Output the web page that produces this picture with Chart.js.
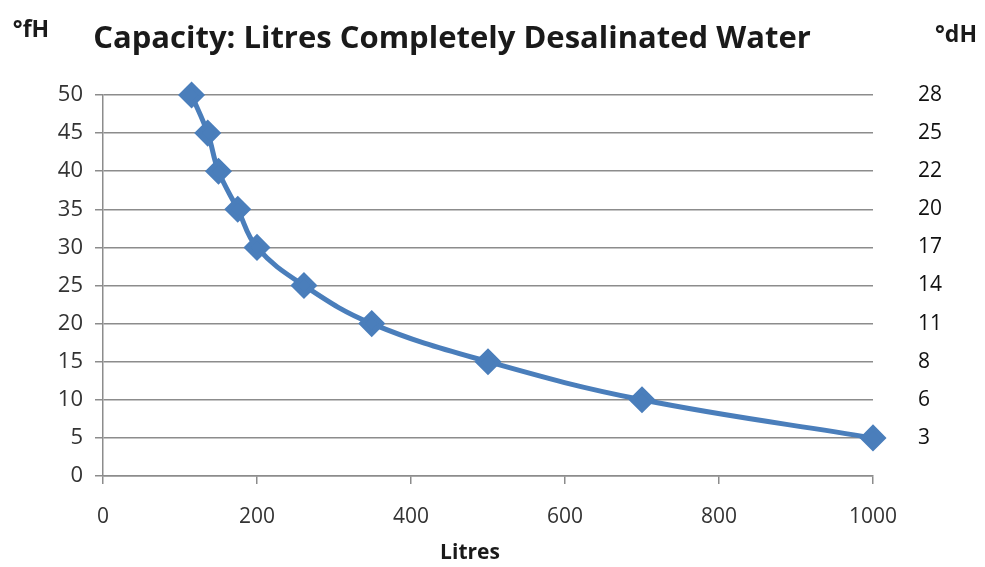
<!DOCTYPE html>
<html lang="en">
<head>
    <meta charset="UTF-8">
    <title>Capacity: Litres Completely Desalinated Water</title>
    <script src="https://cdn.jsdelivr.net/npm/chart.js"></script>
    <style>
        body {
            margin: 0;
            background: #fff;
        }
        .wrap {
            width: 985px;
            height: 567px;
        }
    </style>
</head>
<body>
    <div class="wrap">
        <canvas id="capChart" width="985" height="567"></canvas>
    </div>

    <script>
        // Data
        const litres = [115, 136, 150, 175, 200, 261, 349, 500, 700, 1000];
        const hardnessFH = [50, 45, 40, 35, 30, 25, 20, 15, 10, 5];
        const hardnessDH = [28, 25, 22, 20, 17, 14, 11, 8, 6, 3];

        const blue = '#4a7ebb';
        const grid = '#8c8c8c';

        // titles and unit labels drawn on top
        const labelsPlugin = {
            id: 'labels',
            afterDraw(chart) {
                const ctx = chart.ctx;
                ctx.save();
                ctx.fillStyle = '#1a1a1a';
                ctx.textBaseline = 'middle';
                ctx.textAlign = 'center';
                ctx.font = 'bold 31px "Open Sans", sans-serif';
                ctx.fillText('Capacity: Litres Completely Desalinated Water', 452, 39);
                ctx.font = 'bold 23px "Open Sans", sans-serif';
                ctx.fillText('°fH', 31, 30);
                ctx.fillText('°dH', 956, 35);
                ctx.font = 'bold 21px "Open Sans", sans-serif';
                ctx.fillText('Litres', 470, 553);
                ctx.restore();
            }
        };

        new Chart(document.getElementById('capChart'), {
            type: 'scatter',
            data: {
                datasets: [{
                    data: litres.map((x, i) => ({ x: x, y: hardnessFH[i] })),
                    showLine: true,
                    clip: false,
                    borderColor: blue,
                    backgroundColor: blue,
                    borderWidth: 5,
                    tension: 0.4,
                    pointStyle: 'rectRot',
                    pointRadius: 10,
                    pointHoverRadius: 10
                }]
            },
            options: {
                responsive: false,
                animation: false,
                layout: { padding: { top: 95, left: 0, right: 0, bottom: 0 } },
                plugins: {
                    legend: { display: false },
                    tooltip: { enabled: false }
                },
                scales: {
                    x: {
                        type: 'linear',
                        min: 0,
                        max: 1000,
                        ticks: {
                            stepSize: 200,
                            padding: 20,
                            color: '#333',
                            font: { family: '"Open Sans", sans-serif', size: 21 },
                            callback: (v) => String(v)
                        },
                        grid: {
                            drawOnChartArea: false,
                            color: grid,
                            tickLength: 8,
                            lineWidth: 1.5
                        },
                        border: { color: grid, width: 1.5 },
                        afterFit(axis) { axis.height = 91; }
                    },
                    y: {
                        min: 0,
                        max: 50,
                        ticks: {
                            stepSize: 5,
                            padding: 12,
                            color: '#333',
                            font: { family: '"Open Sans", sans-serif', size: 22 }
                        },
                        grid: {
                            color: grid,
                            tickLength: 8,
                            lineWidth: 1.5
                        },
                        border: { color: grid, width: 1.5 },
                        afterFit(axis) { axis.width = 103; }
                    },
                    y2: {
                        position: 'right',
                        min: 0,
                        max: 50,
                        ticks: {
                            stepSize: 5,
                            padding: 45,
                            color: '#111',
                            font: { family: '"Open Sans", sans-serif', size: 21 },
                            callback: (v) => {
                                const i = hardnessFH.indexOf(v);
                                return i >= 0 ? String(hardnessDH[i]) : '';
                            }
                        },
                        grid: { drawOnChartArea: false, drawTicks: false },
                        border: { display: false },
                        afterFit(axis) { axis.width = 112; }
                    }
                }
            },
            plugins: [labelsPlugin]
        });
    </script>
</body>
</html>
